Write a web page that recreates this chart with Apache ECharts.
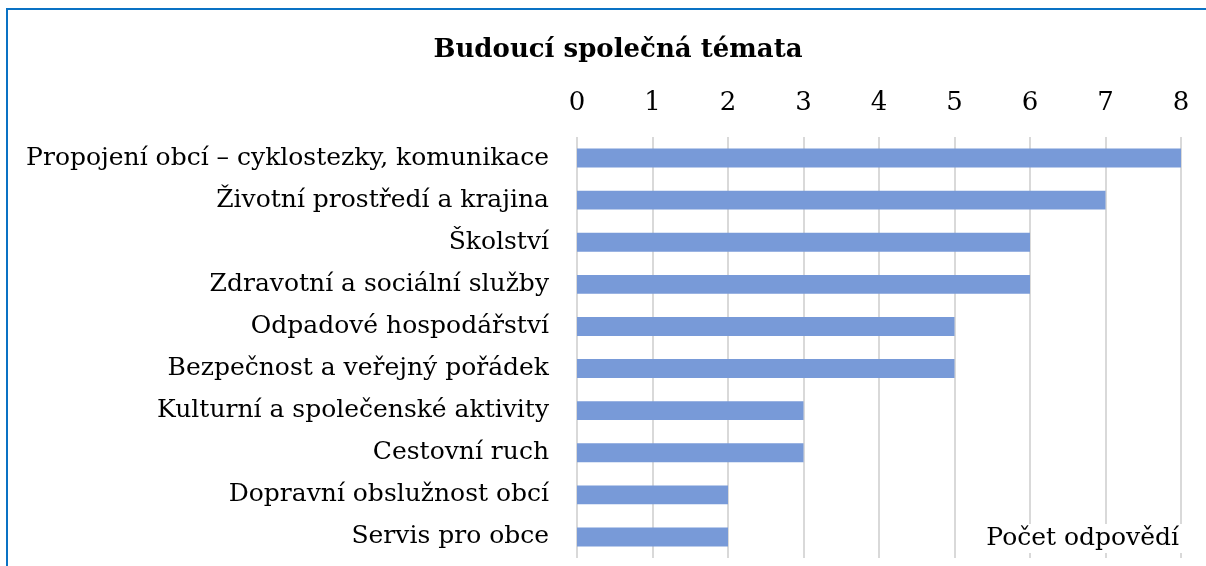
<!DOCTYPE html>
<html>
<head>
<meta charset="utf-8">
<script src="https://cdn.jsdelivr.net/npm/echarts@6/dist/echarts.min.js"></script>
<style>
  html, body { margin: 0; padding: 0; background: #fff; }
  #chart { width: 1206px; height: 566px; }
</style>
</head>
<body>
<div id="chart"></div>
<script>
const chartTitle = 'Budoucí společná témata'
const axisName = 'Počet odpovědí'
const categories = [
  'Propojení obcí – cyklostezky, komunikace',
  'Životní prostředí a krajina',
  'Školství',
  'Zdravotní a sociální služby',
  'Odpadové hospodářství',
  'Bezpečnost a veřejný pořádek',
  'Kulturní a společenské aktivity',
  'Cestovní ruch',
  'Dopravní obslužnost obcí',
  'Servis pro obce'
]
const answers = [8, 7, 6, 6, 5, 5, 3, 3, 2, 2]

const font = 'DejaVu Serif'
const chart = echarts.init(document.getElementById('chart'))

chart.setOption({
  animation: false,
  title: [
    {
      text: chartTitle,
      left: 613,
      top: 32,
      textAlign: 'center',
      textStyle: { fontFamily: font, fontSize: 26, fontWeight: 'bold', color: '#000' }
    },
    {
      text: axisName,
      right: 23,
      top: 524,
      padding: [2, 4],
      backgroundColor: '#fff',
      textStyle: { fontFamily: font, fontSize: 25, fontWeight: 'normal', color: '#000' }
    }
  ],
  grid: { left: 577, right: 25, top: 137, bottom: 8, containLabel: false },
  xAxis: {
    type: 'value',
    position: 'top',
    min: 0,
    max: 8,
    interval: 1,
    axisLine: { show: false },
    axisTick: { show: false },
    axisLabel: { margin: 21, fontFamily: font, fontSize: 26, color: '#000' },
    splitLine: { lineStyle: { color: '#d9d9d9', width: 2 } }
  },
  yAxis: {
    type: 'category',
    data: categories,
    inverse: true,
    axisLine: { show: false },
    axisTick: { show: false },
    axisLabel: { margin: 28, fontFamily: font, fontSize: 25, color: '#000' }
  },
  series: [
    {
      type: 'bar',
      data: answers,
      barCategoryGap: '55%',
      itemStyle: { color: '#789ad8' }
    }
  ],
  graphic: [
    {
      type: 'polyline',
      shape: { points: [[7, 566], [7, 9], [1206, 9]] },
      style: { stroke: '#0a72c4', lineWidth: 2, fill: null }
    }
  ]
})
</script>
</body>
</html>
